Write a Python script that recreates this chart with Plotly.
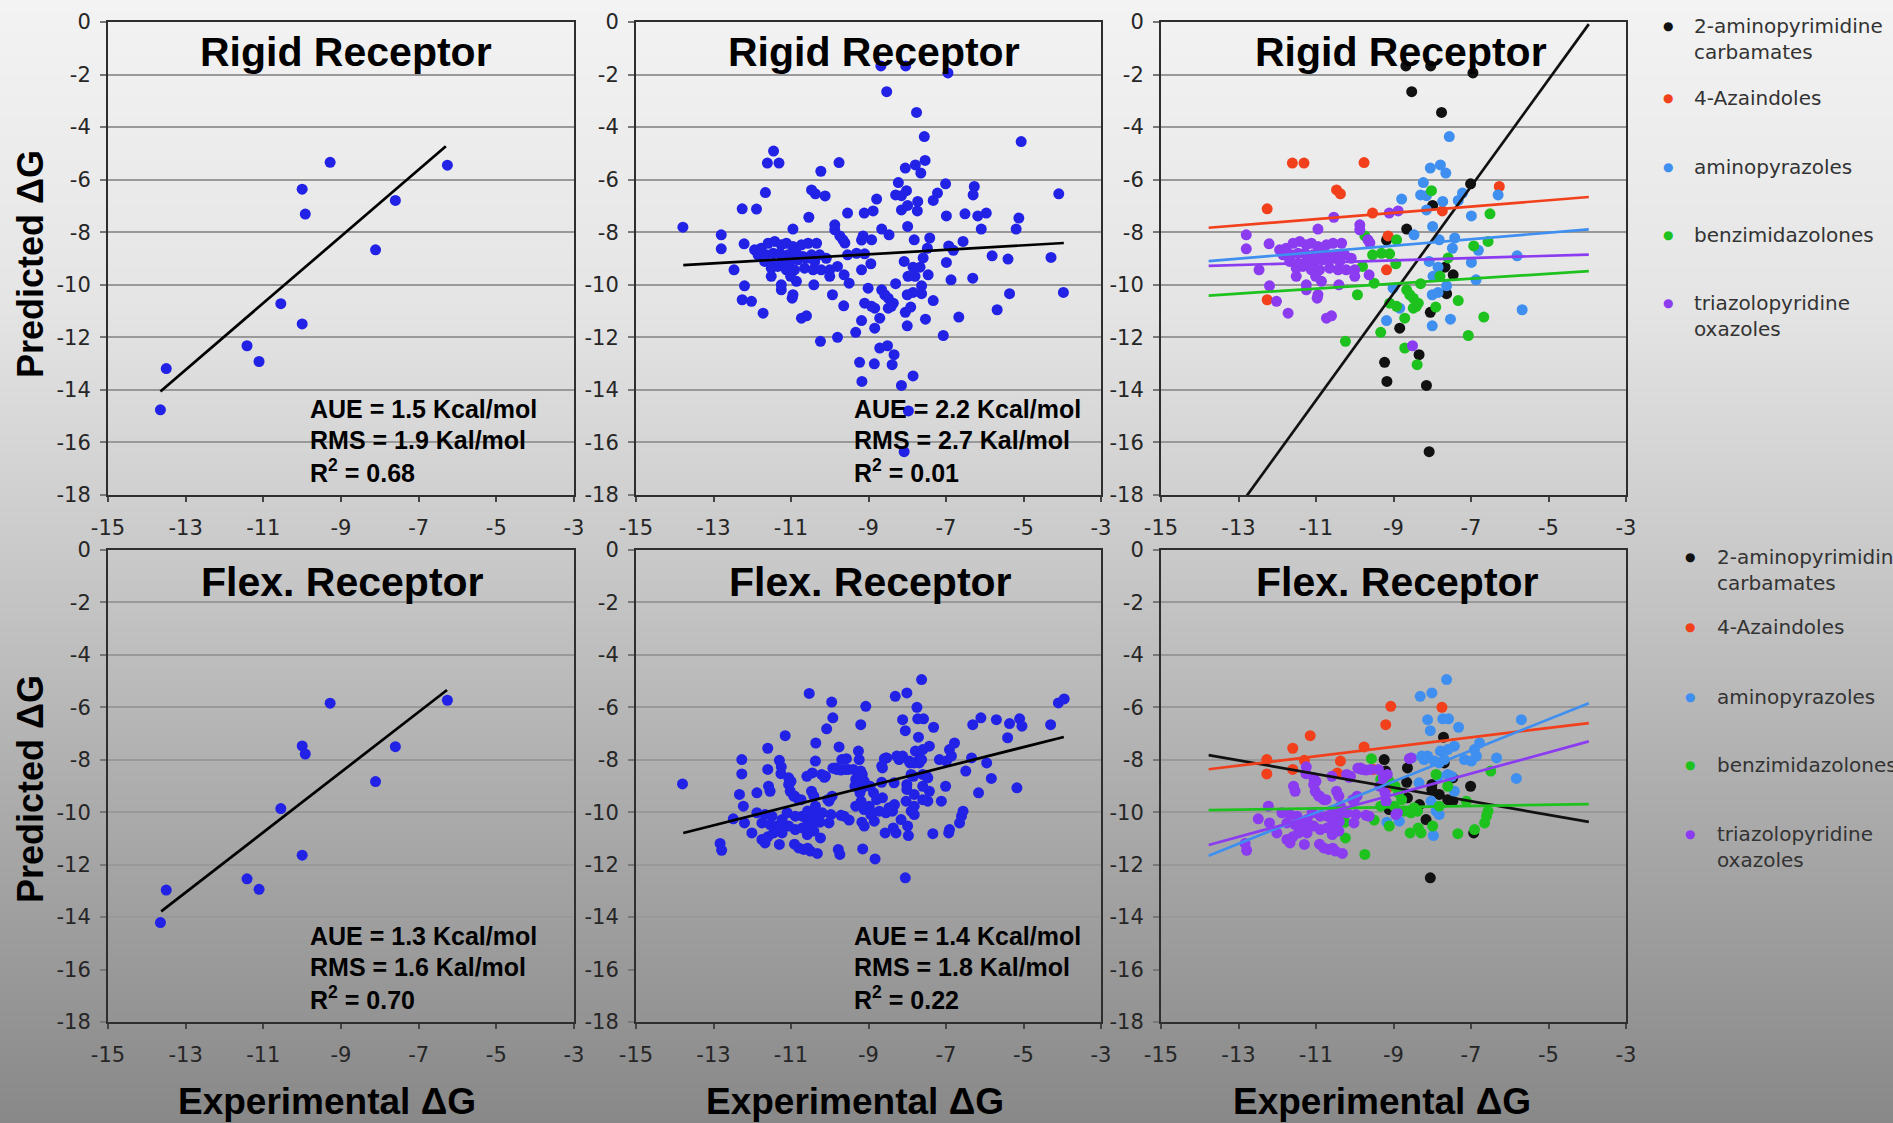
import plotly.graph_objects as go

W, H = 1893, 1123

# ---- 12-compound set (Experimental vs Predicted dG) ----
SMALL_EXP = [-13.65, -13.50, -11.42, -11.11, -10.55, -10.00, -10.00, -9.92, -9.28, -8.11, -7.60, -6.26]
SMALL_RIGID = [-14.76, -13.19, -12.32, -12.92, -10.72, -11.49, -6.36, -7.31, -5.34, -8.67, -6.79, -5.45]
SMALL_FLEX = [-14.21, -12.97, -12.54, -12.94, -9.86, -11.64, -7.47, -7.78, -5.84, -8.83, -7.50, -5.73]

# ---- chemical series, rigid receptor (experimental, predicted) ----
RIGID_AMINOPYRIMIDINE = [(-8.68, -1.67), (-8.04, -1.67), (-6.95, -1.94), (-8.53, -2.65), (-7.76, -3.44),
                         (-7.01, -6.16), (-7.99, -6.98), (-8.66, -7.88), (-9.18, -8.30), (-7.67, -9.33),
                         (-7.46, -9.62), (-7.63, -10.34), (-8.05, -11.05), (-8.84, -11.65), (-8.34, -12.66),
                         (-9.23, -12.95), (-9.17, -13.68), (-8.15, -13.83), (-8.08, -16.35)]
RIGID_AZAINDOLE = [(-11.61, -5.37), (-11.31, -5.37), (-9.76, -5.35), (-10.47, -6.39), (-10.37, -6.54),
                   (-12.26, -7.11), (-9.54, -7.27), (-7.74, -7.19), (-6.27, -6.26), (-9.14, -8.14),
                   (-9.18, -9.43), (-12.26, -10.57)]
RIGID_AMINOPYRAZOLE = [(-7.56, -4.36), (-8.05, -5.56), (-7.79, -5.44), (-7.65, -5.75), (-8.23, -6.11),
                       (-8.79, -6.74), (-8.30, -6.58), (-8.15, -6.61), (-7.73, -6.83), (-7.22, -6.51),
                       (-7.33, -6.79), (-6.30, -6.58), (-8.15, -7.15), (-7.99, -7.78), (-6.99, -7.38),
                       (-8.47, -8.10), (-7.82, -8.29), (-7.42, -8.22), (-7.48, -8.61), (-6.81, -8.69),
                       (-5.81, -8.90), (-8.08, -9.11), (-6.99, -9.15), (-7.85, -9.33), (-6.87, -9.81),
                       (-7.98, -9.68), (-7.63, -10.04), (-9.01, -10.13), (-8.00, -10.38), (-7.85, -10.29),
                       (-8.84, -10.89), (-5.68, -10.95), (-7.53, -11.31), (-9.18, -11.36), (-8.00, -11.56)]
RIGID_BENZIMIDAZOLONE = [(-8.02, -6.42), (-6.51, -7.30), (-8.92, -8.29), (-9.74, -8.14), (-6.56, -8.35),
                         (-6.93, -8.52), (-9.54, -8.86), (-9.31, -8.80), (-9.10, -8.82), (-9.80, -9.30),
                         (-8.94, -9.20), (-7.59, -8.98), (-7.80, -9.68), (-9.50, -9.94), (-8.30, -9.96),
                         (-9.93, -10.38), (-8.66, -10.19), (-8.49, -10.51), (-8.36, -10.70), (-8.58, -10.38),
                         (-9.10, -10.70), (-8.92, -10.82), (-8.49, -10.89), (-8.41, -10.82), (-7.91, -10.85),
                         (-7.33, -10.60), (-8.71, -11.27), (-6.67, -11.23), (-10.24, -12.15), (-9.33, -11.81),
                         (-7.07, -11.93), (-8.71, -12.41), (-8.39, -13.04)]
RIGID_TRIAZOLOPYRIDINE = [(-10.54, -7.43), (-10.95, -7.88), (-9.87, -7.72), (-9.87, -7.91), (-9.11, -7.27),
                          (-8.88, -7.19), (-12.80, -8.10), (-12.80, -8.63), (-12.21, -8.44), (-12.47, -9.43),
                          (-12.20, -10.04), (-12.02, -10.63), (-11.25, -10.19), (-10.97, -10.51), (-10.95, -10.38),
                          (-11.72, -11.08), (-10.73, -11.27), (-10.60, -11.18), (-8.51, -12.32), (-10.41, -10.00),
                          (-9.61, -8.41), (-9.66, -8.29),
                          (-11.94, -8.67), (-11.77, -8.61), (-11.59, -8.42), (-11.42, -8.35), (-11.25, -8.48),
                          (-11.12, -8.42), (-10.95, -8.54), (-10.73, -8.48), (-10.56, -8.42), (-10.34, -8.42),
                          (-11.85, -8.86), (-11.64, -8.86), (-11.46, -8.80), (-11.29, -8.80), (-11.08, -8.86),
                          (-10.86, -8.80), (-10.69, -8.92), (-10.47, -8.86), (-10.26, -8.86), (-11.68, -9.11),
                          (-11.46, -9.18), (-11.25, -9.11), (-11.03, -9.11), (-10.82, -9.05), (-10.60, -8.99),
                          (-10.39, -9.11), (-10.09, -8.99), (-11.51, -9.37), (-11.34, -9.30), (-11.12, -9.43),
                          (-10.91, -9.43), (-10.65, -9.37), (-10.43, -9.43), (-10.22, -9.43), (-11.01, -9.68),
                          (-10.86, -9.87), (-11.25, -10.00), (-11.51, -9.68), (-10.00, -9.43), (-10.00, -9.68),
                          (-9.63, -9.62)]
# compounds outside the five series (only in the pooled panel)
RIGID_OTHER = [(-5.06, -4.55), (-4.09, -6.54), (-4.29, -8.96), (-3.97, -10.29), (-5.36, -10.34),
               (-5.19, -7.88), (-5.12, -7.46), (-5.40, -9.02), (-6.18, -7.38), (-5.96, -7.27),
               (-6.09, -7.88), (-6.31, -9.75), (-13.79, -7.81), (-11.89, -7.12), (-11.66, -6.49),
               (-11.45, -4.91), (-10.23, -5.68), (-10.12, -6.62), (-7.54, -5.27), (-9.80, -12.00),
               (-8.85, -13.01), (-7.85, -13.47), (-7.97, -14.80), (-9.64, -10.80)]

# ---- chemical series, flexible receptor ----
FLEX_AMINOPYRIMIDINE = [(-7.71, -7.14), (-9.24, -7.99), (-8.64, -8.31), (-9.20, -8.43), (-8.66, -8.86),
                        (-8.01, -8.94), (-8.01, -9.13), (-7.69, -8.12), (-7.47, -8.69), (-7.01, -9.01),
                        (-8.64, -9.45), (-7.82, -9.32), (-7.60, -9.52), (-7.47, -9.58), (-8.33, -9.71),
                        (-9.11, -9.90), (-8.16, -10.28), (-6.93, -10.79), (-8.05, -12.50)]
FLEX_AZAINDOLE = [(-9.07, -5.96), (-7.75, -6.00), (-9.20, -6.66), (-11.15, -7.08), (-11.60, -7.56),
                  (-9.76, -7.51), (-12.27, -7.99), (-12.27, -8.54), (-11.30, -8.02), (-11.60, -8.37),
                  (-10.37, -8.05), (-10.45, -8.50), (-9.52, -8.37), (-9.16, -9.07)]
FLEX_AMINOPYRAZOLE = [(-7.63, -4.94), (-8.31, -5.58), (-8.01, -5.45), (-8.12, -6.47), (-7.73, -6.44),
                      (-7.58, -6.44), (-8.05, -6.89), (-7.32, -6.76), (-5.70, -6.47), (-7.43, -7.48),
                      (-7.60, -7.61), (-7.79, -7.67), (-6.91, -7.61), (-6.78, -7.36), (-8.12, -7.86),
                      (-8.21, -7.99), (-7.95, -8.05), (-7.82, -8.12), (-7.69, -7.99), (-7.17, -7.99),
                      (-6.99, -8.05), (-6.86, -7.86), (-6.34, -7.93), (-7.60, -8.56), (-7.43, -9.20),
                      (-5.83, -8.71), (-8.34, -8.88), (-8.03, -9.58), (-7.90, -9.96), (-7.82, -10.09),
                      (-7.97, -10.89), (-8.85, -10.34), (-9.17, -10.38), (-9.16, -8.75), (-8.53, -7.93),
                      (-8.27, -7.86), (-7.84, -8.63), (-7.50, -8.63)]
FLEX_BENZIMIDAZOLONE = [(-9.57, -7.96), (-6.49, -8.43), (-7.90, -8.56), (-9.33, -8.75), (-9.11, -8.82),
                        (-7.60, -9.01), (-7.12, -9.58), (-9.33, -9.77), (-8.98, -9.77), (-8.72, -9.96),
                        (-8.55, -10.02), (-8.38, -9.96), (-8.47, -9.83), (-7.82, -9.77), (-6.60, -10.15),
                        (-6.56, -9.96), (-6.65, -10.41), (-9.50, -10.30), (-10.25, -10.38), (-9.11, -10.53),
                        (-8.36, -10.60), (-8.29, -10.79), (-8.57, -10.79), (-7.99, -10.53), (-7.34, -10.82),
                        (-6.91, -10.66), (-10.24, -10.98), (-9.74, -11.61), (-8.96, -9.01), (-8.87, -9.26),
                        (-8.79, -9.52)]
FLEX_TRIAZOLOPYRIDINE = [(-11.25, -8.27), (-9.85, -8.31), (-9.59, -8.37), (-8.55, -7.93), (-9.16, -8.56),
                         (-10.11, -8.63), (-11.58, -9.01), (-11.54, -9.20), (-11.06, -8.69), (-11.06, -8.94),
                         (-11.02, -9.20), (-10.93, -9.39), (-10.80, -9.52), (-10.47, -9.20), (-10.41, -9.39),
                         (-9.94, -9.39), (-10.02, -9.58), (-12.23, -9.77), (-12.49, -10.25), (-12.20, -10.41),
                         (-12.01, -10.79), (-11.88, -10.02), (-11.67, -10.09), (-11.49, -10.15), (-11.75, -10.41),
                         (-11.54, -10.47), (-11.36, -10.53), (-11.23, -10.28), (-11.10, -10.02), (-10.89, -10.15),
                         (-10.71, -10.15), (-10.58, -10.28), (-10.45, -10.15), (-11.06, -10.53), (-10.89, -10.66),
                         (-10.71, -10.60), (-10.54, -10.53), (-10.41, -10.72), (-10.58, -10.85), (-11.45, -10.79),
                         (-11.23, -10.79), (-11.75, -11.04), (-11.67, -11.17), (-11.30, -11.23), (-10.80, -11.36),
                         (-10.67, -11.42), (-10.50, -11.48), (-10.32, -11.57), (-12.83, -11.19), (-12.79, -11.45),
                         (-9.63, -10.15), (-10.02, -10.41), (-8.90, -10.02), (-10.37, -9.77), (-10.37, -10.02),
                         (-10.20, -10.02), (-11.26, -8.53), (-11.00, -8.82), (-10.91, -9.38), (-10.74, -9.52),
                         (-10.57, -9.95), (-10.14, -8.67), (-9.92, -8.32), (-9.71, -8.39), (-10.05, -9.52),
                         (-9.97, -10.09), (-9.71, -10.12), (-8.94, -10.09), (-8.59, -7.96), (-9.19, -9.59),
                         (-11.26, -10.52), (-11.60, -10.94), (-10.40, -10.37), (-10.91, -11.22), (-10.57, -11.37),
                         (-10.59, -8.63), (-10.21, -8.56), (-9.82, -8.37), (-9.39, -8.37), (-9.26, -8.69),
                         (-9.35, -9.01), (-9.22, -9.26)]
FLEX_OTHER = [(-13.80, -8.92), (-12.33, -9.32), (-11.88, -9.26), (-10.53, -5.47), (-9.95, -5.80),
              (-9.92, -6.40), (-10.08, -6.82), (-10.36, -7.36), (-9.26, -7.67), (-6.31, -6.66),
              (-6.10, -6.40), (-5.36, -6.62), (-5.10, -6.44), (-5.04, -6.72), (-4.30, -6.66),
              (-4.10, -5.83), (-3.95, -5.68), (-5.41, -7.16), (-5.17, -9.07), (-6.16, -9.26),
              (-5.95, -8.12), (-8.83, -11.78), (-9.15, -11.40), (-9.78, -11.42), (-9.69, -7.99),
              (-8.66, -8.24), (-7.93, -8.12), (-7.63, -7.99)]

SERIES_NAMES = ["2-aminopyrimidine<br>carbamates", "4-Azaindoles", "aminopyrazoles",
                "benzimidazolones", "triazolopyridine<br>oxazoles"]
SERIES_COLORS = ["#111111", "#f2401c", "#3f8ff0", "#1ec21e", "#8b3cf0"]
RIGID_SERIES = [RIGID_AMINOPYRIMIDINE, RIGID_AZAINDOLE, RIGID_AMINOPYRAZOLE,
                RIGID_BENZIMIDAZOLONE, RIGID_TRIAZOLOPYRIDINE]
FLEX_SERIES = [FLEX_AMINOPYRIMIDINE, FLEX_AZAINDOLE, FLEX_AMINOPYRAZOLE,
               FLEX_BENZIMIDAZOLONE, FLEX_TRIAZOLOPYRIDINE]

# ---- linear fits: (x_start, x_end, y_start, y_end) ----
FIT_SMALL_RIGID = (-13.65, -6.30, -14.06, -4.73)
FIT_SMALL_FLEX = (-13.63, -6.27, -13.78, -5.34)
FIT_ALL_RIGID = (-13.78, -3.96, -9.25, -8.41)
FIT_ALL_FLEX = (-13.78, -3.96, -10.79, -7.13)
FIT_SERIES_RIGID = [(-13.77, -3.96, -20.03, -0.08), (-13.77, -3.96, -7.83, -6.66),
                    (-13.77, -3.96, -9.10, -7.89), (-13.77, -3.96, -10.41, -9.48),
                    (-13.77, -3.96, -9.28, -8.85)]
FIT_SERIES_FLEX = [(-13.77, -3.96, -7.82, -10.37), (-13.77, -3.96, -8.36, -6.60),
                   (-13.77, -3.96, -11.66, -5.84), (-13.77, -3.96, -9.92, -9.69),
                   (-13.77, -3.96, -11.25, -7.30)]

STATS = [["AUE = 1.5 Kcal/mol", "RMS = 1.9 Kal/mol", "R<sup>2</sup> = 0.68"],
         ["AUE = 2.2 Kcal/mol", "RMS = 2.7 Kal/mol", "R<sup>2</sup> = 0.01"],
         ["AUE = 1.3 Kcal/mol", "RMS = 1.6 Kal/mol", "R<sup>2</sup> = 0.70"],
         ["AUE = 1.4 Kcal/mol", "RMS = 1.8 Kal/mol", "R<sup>2</sup> = 0.22"]]

X_TICKS = [-15, -13, -11, -9, -7, -5, -3]
Y_TICKS = [0, -2, -4, -6, -8, -10, -12, -14, -16, -18]

POINT_BLUE = "#2222e6"
TICK_FONT = dict(family="DejaVu Sans", size=21, color="#262626")
BOLD_FONT = "Liberation Sans, Arial, sans-serif"


def px(x):
    return x / W


def py(y):
    return 1 - y / H


# panel boxes in pixels
X_DOMAINS = [(108, 574), (636, 1101), (1161, 1626)]
Y_DOMAINS = [(22, 495), (550, 1022)]

fig = go.Figure()
layout = dict(width=W, height=H, autosize=False,
              margin=dict(l=0, r=0, t=0, b=0, pad=0, autoexpand=False),
              paper_bgcolor="#d0d0d0", plot_bgcolor="rgba(0,0,0,0)", showlegend=False)

for i in range(6):
    r, c = divmod(i, 3)
    n = i + 1
    sx = "" if n == 1 else str(n)
    x0, x1 = X_DOMAINS[c]
    y0, y1 = Y_DOMAINS[r]
    layout["xaxis" + sx] = dict(
        domain=[px(x0), px(x1)], anchor="y" + sx, range=[-15, -3], automargin=False,
        tickvals=X_TICKS, ticktext=[str(v) for v in X_TICKS],
        showgrid=False, zeroline=False, showline=True, mirror=True,
        linecolor="#2e2e2e", linewidth=2, ticks="outside", ticklen=5,
        tickcolor="#444", tickwidth=1.5, tickfont=TICK_FONT, ticklabelstandoff=8)
    layout["yaxis" + sx] = dict(
        domain=[py(y1), py(y0)], anchor="x" + sx, range=[-18, 0], automargin=False,
        tickvals=Y_TICKS, ticktext=[str(v) for v in Y_TICKS],
        showgrid=True, gridcolor="#999999", gridwidth=1.7, zeroline=False,
        showline=True, mirror=True, linecolor="#2e2e2e", linewidth=2,
        ticks="outside", ticklen=6, tickcolor="#777", tickwidth=1.5,
        tickfont=TICK_FONT, ticklabelstandoff=5)


def add_points(xs, ys, color, n):
    sx = "" if n == 1 else str(n)
    fig.add_trace(go.Scatter(x=xs, y=ys, mode="markers", xaxis="x" + sx, yaxis="y" + sx,
                             marker=dict(size=11, color=color, line=dict(width=0)),
                             hoverinfo="x+y"))


def add_fit(fit, color, n):
    sx = "" if n == 1 else str(n)
    xa, xb, ya, yb = fit
    fig.add_trace(go.Scatter(x=[xa, xb], y=[ya, yb], mode="lines", xaxis="x" + sx, yaxis="y" + sx,
                             line=dict(color=color, width=2.7), hoverinfo="skip"))


def pooled(series_list, extra):
    pts = [p for s in series_list for p in s] + extra
    return [p[0] for p in pts], [p[1] for p in pts]


# panel 1 / 4: small set
add_points(SMALL_EXP, SMALL_RIGID, POINT_BLUE, 1)
add_fit(FIT_SMALL_RIGID, "#000000", 1)
add_points(SMALL_EXP, SMALL_FLEX, POINT_BLUE, 4)
add_fit(FIT_SMALL_FLEX, "#000000", 4)

# panel 2 / 5: all compounds pooled
xs, ys = pooled(RIGID_SERIES, RIGID_OTHER)
add_points(xs, ys, POINT_BLUE, 2)
add_fit(FIT_ALL_RIGID, "#000000", 2)
xs, ys = pooled(FLEX_SERIES, FLEX_OTHER)
add_points(xs, ys, POINT_BLUE, 5)
add_fit(FIT_ALL_FLEX, "#000000", 5)

# panel 3 / 6: coloured by chemical series
for pts, col in zip(RIGID_SERIES, SERIES_COLORS):
    add_points([p[0] for p in pts], [p[1] for p in pts], col, 3)
for fit, col in zip(FIT_SERIES_RIGID, SERIES_COLORS):
    add_fit(fit, col, 3)
for pts, col in zip(FLEX_SERIES, SERIES_COLORS):
    add_points([p[0] for p in pts], [p[1] for p in pts], col, 6)
for fit, col in zip(FIT_SERIES_FLEX, SERIES_COLORS):
    add_fit(fit, col, 6)

# ---- background: vertical grey gradient built from thin bands ----
GRAD_STOPS = [(0, 243), (300, 229), (540, 203), (800, 172), (1123, 136)]


def grey_at(y):
    for (ya, ga), (yb, gb) in zip(GRAD_STOPS[:-1], GRAD_STOPS[1:]):
        if ya <= y <= yb:
            return ga + (gb - ga) * (y - ya) / (yb - ya)
    return GRAD_STOPS[-1][1]


shapes = []
band = 3
for yy in range(0, H, band):
    g = int(round(grey_at(yy + band / 2)))
    shapes.append(dict(type="rect", xref="paper", yref="paper", x0=0, x1=1,
                       y0=py(min(yy + band, H)), y1=py(yy), line=dict(width=0),
                       fillcolor=f"rgb({g},{g},{g})", layer="below"))
layout["shapes"] = shapes

# ---- text ----
ann = []
TITLE_X = [346, 874, 1401, 342, 870, 1397]
for i, tx in enumerate(TITLE_X):
    label = "Rigid Receptor" if i < 3 else "Flex. Receptor"
    ty = 52 if i < 3 else 582
    ann.append(dict(x=px(tx), y=py(ty), xref="paper", yref="paper", showarrow=False,
                    text=f"<b>{label}</b>", xanchor="center", yanchor="middle",
                    font=dict(family=BOLD_FONT, size=41, color="#000")))

STAT_POS = [(308, 409), (852, 409), (308, 936), (852, 936)]
for lines, (sx0, sy0) in zip(STATS, STAT_POS):
    for k, line in enumerate(lines):
        ann.append(dict(x=px(sx0), y=py(sy0 + k * 31), xref="paper", yref="paper", showarrow=False,
                        text=f"<b>{line}</b>", xanchor="left", yanchor="middle",
                        font=dict(family=BOLD_FONT, size=25, color="#000")))

for cy in (264, 789):
    ann.append(dict(x=px(30), y=py(cy), xref="paper", yref="paper", showarrow=False,
                    text="<b>Predicted ΔG</b>", textangle=-90, xanchor="center", yanchor="middle",
                    font=dict(family=BOLD_FONT, size=36, color="#000")))
for cx in (327, 855, 1382):
    ann.append(dict(x=px(cx), y=py(1101), xref="paper", yref="paper", showarrow=False,
                    text="<b>Experimental ΔG</b>", xanchor="center", yanchor="middle",
                    font=dict(family=BOLD_FONT, size=37, color="#000")))

# series key, one per row
LEGEND_ROWS = [(1668, 1692, [26, 98, 167, 235, 303]), (1690, 1715, [557, 627, 697, 765, 834])]
for dot_x, text_x, ys_ in LEGEND_ROWS:
    for name, col, ly in zip(SERIES_NAMES, SERIES_COLORS, ys_):
        ann.append(dict(x=px(dot_x), y=py(ly), xref="paper", yref="paper", showarrow=False,
                        text="●", xanchor="center", yanchor="middle",
                        font=dict(family="DejaVu Sans", size=12, color=col)))
        ann.append(dict(x=px(text_x), y=py(ly - 14), xref="paper", yref="paper", showarrow=False,
                        text=name, xanchor="left", yanchor="top", align="left",
                        font=dict(family="DejaVu Sans", size=20, color="#333")))

layout["annotations"] = ann
fig.update_layout(**layout)
fig.write_html("out.html")
